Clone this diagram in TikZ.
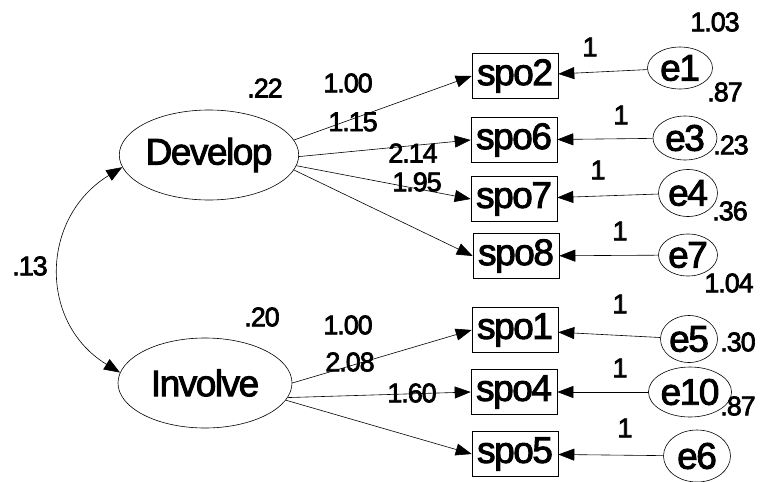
\documentclass[tikz,border=0pt]{standalone}
\usepackage{fontspec}
\setmainfont{Liberation Sans}
\newfontfamily\semfont{Liberation Sans}[FakeBold=2.5,LetterSpace=-4]
\usetikzlibrary{shapes.geometric,arrows.meta}

\begin{document}
\begin{tikzpicture}[x=1pt,y=-1pt,
  latent/.style={draw,ellipse,inner sep=0pt,minimum width=174pt,minimum height=90pt,
    font=\semfont\fontsize{37}{37}\selectfont},
  errvar/.style={draw,ellipse,inner sep=0pt,font=\semfont\fontsize{37}{37}\selectfont},
  observed/.style={draw,rectangle,inner sep=0pt,minimum width=86pt,minimum height=45pt,
    font=\semfont\fontsize{37}{37}\selectfont},
  est/.style={inner sep=0pt,font=\semfont\fontsize{27}{27}\selectfont},
  tip/.tip={Triangle[length=16pt,width=12pt]},
  path/.style={line width=0.6pt,-tip},
  cov/.style={line width=0.6pt,tip-tip},
  every path/.style={line width=0.6pt}]
\useasboundingbox (0,0) rectangle (761,482);

% latent factors
\node[latent] (Develop) at (209,155) {Develop};
\node[latent] (Involve) at (205,383) {Involve};

% observed indicators
\node[observed] (spo2) at (515,76) {spo2};
\node[observed] (spo6) at (514,140) {spo6};
\node[observed] (spo7) at (514,199) {spo7};
\node[observed] (spo8) at (516,256) {spo8};
\node[observed] (spo1) at (515,330) {spo1};
\node[observed] (spo4) at (514,392) {spo4};
\node[observed] (spo5) at (515,454) {spo5};

% error terms
\node[errvar,minimum width=65pt,minimum height=42pt] (e1) at (680,68) {e1};
\node[errvar,minimum width=64pt,minimum height=44pt] (e3) at (685,138) {e3};
\node[errvar,minimum width=59pt,minimum height=47pt] (e4) at (688,193) {e4};
\node[errvar,minimum width=59pt,minimum height=42pt] (e7) at (688,255) {e7};
\node[errvar,minimum width=57pt,minimum height=47pt] (e5) at (689,339) {e5};
\node[errvar,minimum width=65pt,minimum height=50pt] (e10) at (690,392) {e10};
\node[errvar,minimum width=67pt,minimum height=52pt] (e6) at (697,456) {e6};

% factor loadings
\draw[path] (Develop.10) -- (spo2.west);
\draw[path] (Develop.-1) -- (spo6.west);
\draw[path] (Develop.-7) -- (spo7.west);
\draw[path] (Develop.-10) -- (spo8.west);
\draw[path] (Involve.0) -- (spo1.west);
\draw[path] (Involve.-10) -- (spo4.west);
\draw[path] (Involve.-12) -- (spo5.west);

% error paths
\draw[path] (e1) -- (spo2);
\draw[path] (e3) -- (spo6);
\draw[path] (e4) -- (spo7);
\draw[path] (e7) -- (spo8);
\draw[path] (e5) -- (spo1);
\draw[path] (e10) -- (spo4);
\draw[path] (e6) -- (spo5);

% factor covariance
\draw[cov] (Develop.188) .. controls +(-82,50) and +(-82,-50) .. (Involve.173);

% estimates
\node[est] (vD) at (265,88) {.22};
\node[est] (lD2) at (348,83) {1.00};
\node[est] (lD6) at (353,122) {1.15};
\node[est] (lD7) at (413,153) {2.14};
\node[est] (lD8) at (417,182) {1.95};
\node[est] (cDI) at (30,266) {.13};
\node[est] (vI) at (262,317) {.20};
\node[est] (lI1) at (348,325) {1.00};
\node[est] (lI4) at (350,362) {2.08};
\node[est] (lI5) at (412,393) {1.60};

\node[est] (r2) at (715,22) {1.03};
\node[est] (v1) at (725,92) {.87};
\node[est] (v3) at (731,145) {.23};
\node[est] (v4) at (730,211) {.36};
\node[est] (v7) at (729,283) {1.04};
\node[est] (v5) at (738,342) {.30};
\node[est] (v10) at (738,406) {.87};

\node[est] (w1) at (590,47) {1};
\node[est] (w3) at (621,115) {1};
\node[est] (w4) at (598,170) {1};
\node[est] (w7) at (620,231) {1};
\node[est] (w5) at (620,304) {1};
\node[est] (w10) at (620,368) {1};
\node[est] (w6) at (625,428) {1};
\end{tikzpicture}
\end{document}
